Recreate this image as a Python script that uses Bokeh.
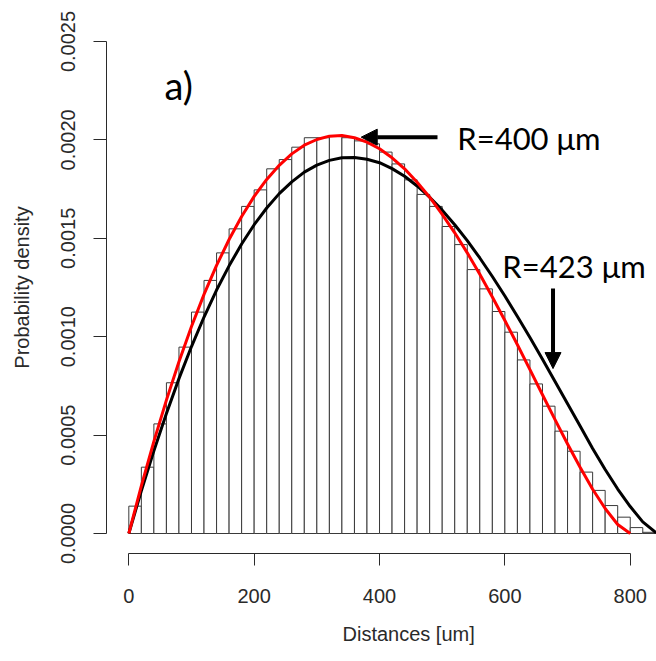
from bokeh.plotting import figure
from bokeh.models import (Range1d, FixedTicker, PrintfTickFormatter, Label, Arrow,
                          NormalHead, ColumnDataSource, Title)
from bokeh.embed import file_html
from bokeh.resources import INLINE

# ---------------- data ----------------
bin_width = 20
bin_left = list(range(0, 840, 20))
hist_density = [0.000139, 0.000337, 0.000557, 0.000766, 0.000947, 0.001125, 0.001286,
                0.001426, 0.001548, 0.001662, 0.001746, 0.001853, 0.001900, 0.001963,
                0.002011, 0.002011, 0.002022, 0.002011, 0.001995, 0.001980, 0.001938,
                0.001878, 0.001797, 0.001723, 0.001662, 0.001560, 0.001468, 0.001341,
                0.001243, 0.001128, 0.001023, 0.000882, 0.000760, 0.000647, 0.000520,
                0.000418, 0.000312, 0.000219, 0.000142, 0.000083, 0.000030, 0.000006]

red_x = list(range(0, 801, 20))
red_y = [0.0, 0.000242, 0.000468, 0.000678, 0.000873, 0.001052, 0.001215, 0.001362,
         0.001494, 0.001611, 0.001713, 0.001799, 0.001871, 0.001929, 0.001973, 0.002002,
         0.002019, 0.002022, 0.002011, 0.001989, 0.001955, 0.001909, 0.001853, 0.001785,
         0.001709, 0.001622, 0.001528, 0.001426, 0.001317, 0.001202, 0.001082, 0.000959,
         0.000833, 0.000705, 0.000579, 0.000455, 0.000337, 0.000225, 0.000127, 0.000046, 0.0]

black_x = list(range(0, 841, 20)) + [846]
black_y = [0.0, 0.000217, 0.000420, 0.000610, 0.000787, 0.000950, 0.001100, 0.001237,
           0.001360, 0.001471, 0.001569, 0.001654, 0.001727, 0.001787, 0.001836, 0.001872,
           0.001896, 0.001909, 0.001911, 0.001902, 0.001884, 0.001854, 0.001815, 0.001766,
           0.001709, 0.001643, 0.001569, 0.001488, 0.001400, 0.001306, 0.001207, 0.001103,
           0.000996, 0.000886, 0.000772, 0.000659, 0.000546, 0.000432, 0.000325, 0.000226,
           0.000137, 0.000059, 0.000007, 0.0]

x_ticks = [0, 200, 400, 600, 800]
y_ticks = [0.0, 0.0005, 0.0010, 0.0015, 0.0020, 0.0025]
x_title = "Distances [um]"
y_title = "Probability density"
panel_label = "a)"
label_r400 = "R=400 \u03bcm"
label_r423 = "R=423 \u03bcm"

# ---------------- figure ----------------
p = figure(width=656, height=661, output_backend="svg", toolbar_location=None,
           x_range=Range1d(-35.6, 841.9), y_range=Range1d(-0.0001016, 0.0026016),
           min_border_left=106, min_border_right=0, min_border_top=21, min_border_bottom=108)
p.outline_line_color = None
p.background_fill_color = "white"
p.border_fill_color = "white"
p.xgrid.visible = False
p.ygrid.visible = False

src = ColumnDataSource(dict(left=bin_left,
                            right=[b + bin_width for b in bin_left],
                            top=hist_density))
p.quad(left="left", right="right", top="top", bottom=0, source=src,
       fill_color="white", line_color="#3a3a3a", line_width=1)

p.line(black_x, black_y, line_color="black", line_width=3, line_join="round")
p.line(red_x, red_y, line_color="#ff0000", line_width=3, line_join="round")

axis_font = "Liberation Sans"
ax_col = "#2a2a2a"

xa = p.xaxis[0]
xa.bounds = (0, 800)
xa.ticker = FixedTicker(ticks=x_ticks)
xa.major_tick_out = 12
xa.major_tick_in = 0
xa.minor_tick_out = 0
xa.minor_tick_in = 0
xa.axis_line_color = ax_col
xa.major_tick_line_color = ax_col
xa.major_label_text_font = axis_font
xa.major_label_text_font_size = "20px"
xa.major_label_text_color = ax_col
xa.major_label_standoff = 23

ya = p.yaxis[0]
ya.bounds = (0, 0.0025)
ya.ticker = FixedTicker(ticks=y_ticks)
ya.formatter = PrintfTickFormatter(format="%.4f")
ya.major_tick_out = 13
ya.major_tick_in = 0
ya.minor_tick_out = 0
ya.minor_tick_in = 0
ya.axis_line_color = ax_col
ya.major_tick_line_color = ax_col
ya.major_label_orientation = "parallel"
ya.major_label_text_font = axis_font
ya.major_label_text_font_size = "20px"
ya.major_label_text_color = ax_col
ya.major_label_standoff = 18
ya.axis_label = y_title
ya.axis_label_text_font = axis_font
ya.axis_label_text_font_style = "normal"
ya.axis_label_text_font_size = "20px"
ya.axis_label_text_color = ax_col
ya.axis_label_standoff = 26

p.add_layout(Title(text=x_title, align="left", offset=236, standoff=30,
                   text_font=axis_font, text_font_size="20px", text_font_style="normal",
                   text_color=ax_col), "below")

ann_font = "Lato"
p.add_layout(Label(x=57, y=0.002277, text=panel_label, text_font=ann_font,
                   text_font_size="38px", text_color="black", text_baseline="alphabetic"))
p.add_layout(Label(x=524, y=0.002011, text=label_r400, text_font=ann_font,
                   text_font_size="31px", text_color="black", text_baseline="alphabetic"))
p.add_layout(Label(x=596, y=0.00136, text=label_r423, text_font=ann_font,
                   text_font_size="31px", text_color="black", text_baseline="alphabetic"))

p.add_layout(Arrow(end=NormalHead(size=16, fill_color="black", line_color="black"),
                   x_start=492.5, y_start=0.002014, x_end=370.8, y_end=0.002014,
                   line_width=4, line_color="black"))
p.add_layout(Arrow(end=NormalHead(size=16, fill_color="black", line_color="black"),
                   x_start=676.8, y_start=0.001245, x_end=676.8, y_end=0.000838,
                   line_width=4, line_color="black"))

open("out.html", "w").write(file_html(p, INLINE))
